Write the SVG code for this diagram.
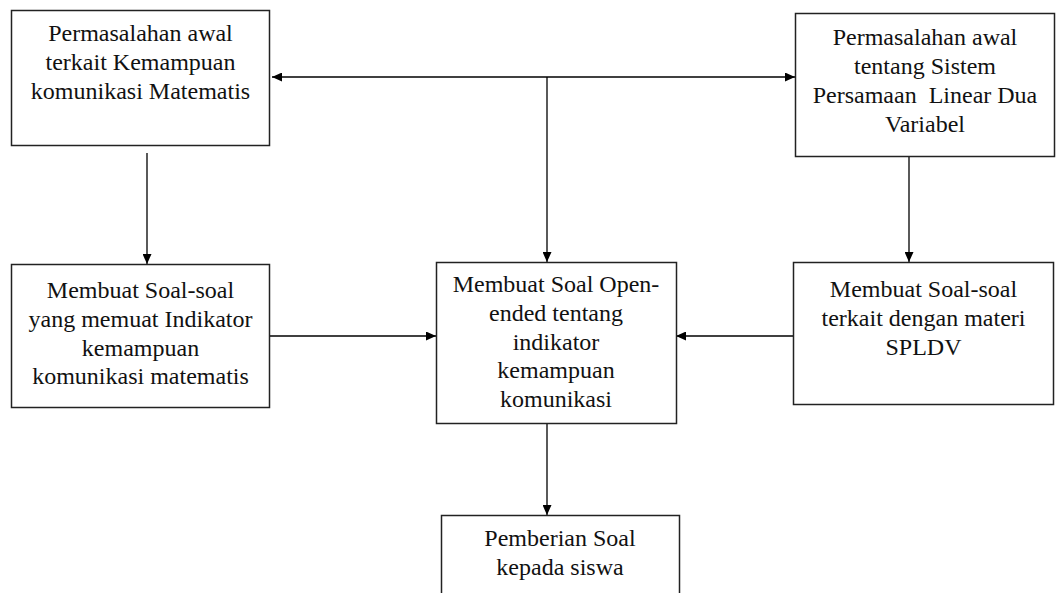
<svg xmlns="http://www.w3.org/2000/svg" width="1057" height="593" viewBox="0 0 1057 593">
<style>
.box{fill:#fff;stroke:#222;stroke-width:1.5}
text{font-family:'Liberation Serif','Times New Roman',serif;font-size:24px;fill:#111;text-anchor:middle;white-space:pre}
.c{stroke:#000;stroke-width:1.3;fill:none}
</style>
<defs>
<marker id="ah" markerWidth="11" markerHeight="9" refX="10" refY="4.5" orient="auto" markerUnits="userSpaceOnUse">
<path d="M0,0 L10,4.5 L0,9 Z" fill="#000"/>
</marker>
</defs>
<rect width="1057" height="593" fill="#fff"/>
<g id="connectors">
<path d="M547,77 L272,77" class="c" marker-end="url(#ah)"/>
<path d="M547,77 L795,77" class="c" marker-end="url(#ah)"/>
<path d="M547,77 L547,262" class="c" marker-end="url(#ah)"/>
<path d="M147,153 L147,264" class="c" marker-end="url(#ah)"/>
<path d="M909,157 L909,262" class="c" marker-end="url(#ah)"/>
<path d="M270,336 L436,336" class="c" marker-end="url(#ah)"/>
<path d="M793,336 L676,336" class="c" marker-end="url(#ah)"/>
<path d="M547,423 L547,515" class="c" marker-end="url(#ah)"/>
</g>
<g id="n1">
<rect x="11.5" y="10.5" width="258" height="135" class="box"/>
<text x="140.5" y="41">Permasalahan awal</text>
<text x="140.5" y="70">terkait Kemampuan</text>
<text x="140.5" y="99">komunikasi Matematis</text>
</g>
<g id="n2">
<rect x="795.5" y="13.5" width="259" height="143" class="box"/>
<text x="925" y="45">Permasalahan awal</text>
<text x="925" y="74">tentang Sistem</text>
<text x="925" y="103">Persamaan  Linear Dua</text>
<text x="925" y="132">Variabel</text>
</g>
<g id="n3">
<rect x="11.5" y="264.5" width="258" height="143" class="box"/>
<text x="140.5" y="298">Membuat Soal-soal</text>
<text x="140.5" y="327">yang memuat Indikator</text>
<text x="140.5" y="356">kemampuan</text>
<text x="140.5" y="384">komunikasi matematis</text>
</g>
<g id="n4">
<rect x="436.5" y="262.5" width="240" height="161" class="box"/>
<text x="556" y="292">Membuat Soal Open-</text>
<text x="556" y="321">ended tentang</text>
<text x="556" y="350">indikator</text>
<text x="556" y="378">kemampuan</text>
<text x="556" y="407">komunikasi</text>
</g>
<g id="n5">
<rect x="793.5" y="262.5" width="260" height="142" class="box"/>
<text x="923.5" y="297">Membuat Soal-soal</text>
<text x="923.5" y="326">terkait dengan materi</text>
<text x="923.5" y="355">SPLDV</text>
</g>
<g id="n6">
<rect x="441.5" y="515.5" width="238" height="90" class="box"/>
<text x="560" y="546">Pemberian Soal</text>
<text x="560" y="575">kepada siswa</text>
</g>
</svg>
